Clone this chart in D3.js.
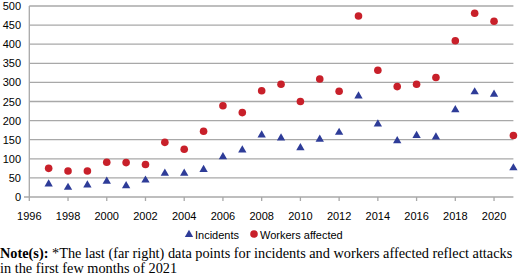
<!DOCTYPE html>
<html>
<head>
<meta charset="utf-8">
<script src="https://cdn.jsdelivr.net/npm/d3@7"></script>
<style>
body { margin: 0; background: #fff; }
svg { display: block; }
</style>
</head>
<body>
<script>
var width = 520;
var height = 279;

var years = [1997, 1998, 1999, 2000, 2001, 2002, 2003, 2004, 2005, 2006, 2007, 2008, 2009,
    2010, 2011, 2012, 2013, 2014, 2015, 2016, 2017, 2018, 2019, 2020, 2021];
var incidents = [34, 25, 31, 41, 29, 44, 62, 62, 72, 105, 123, 162, 154,
    129, 151, 169, 264, 191, 147, 161, 157, 228, 275, 269, 76];
var workers = [75, 68, 68, 91, 90, 85, 143, 125, 172, 239, 221, 278, 295,
    250, 309, 277, 474, 332, 289, 295, 313, 409, 481, 460, 161];
var xTicks = [1996, 1998, 2000, 2002, 2004, 2006, 2008, 2010, 2012, 2014, 2016, 2018, 2020];
var yTicks = [0, 50, 100, 150, 200, 250, 300, 350, 400, 450, 500];

var blue = "#2e3c98";
var red = "#c8202a";
var grid = "#a8a8a8";

var svg = d3.select("body")
    .append("svg")
    .attr("width", width)
    .attr("height", height);

var x = d3.scaleLinear().domain([1996, 2021]).range([29.3, 513.4]);
var y = d3.scaleLinear().domain([0, 500]).range([197, 6]);

// gridlines
svg.selectAll("line.grid")
    .data(yTicks)
    .enter()
    .append("line")
    .attr("class", "grid")
    .attr("x1", function (d) { return d === 0 ? 24 : x(1996); })
    .attr("x2", x(2021))
    .attr("y1", function (d) { return y(d); })
    .attr("y2", function (d) { return y(d); })
    .attr("stroke", grid)
    .attr("stroke-width", 1.3);

// y axis line
svg.append("line")
    .attr("x1", x(1996)).attr("x2", x(1996))
    .attr("y1", y(500)).attr("y2", y(0))
    .attr("stroke", grid)
    .attr("stroke-width", 1.3);

// x ticks
svg.selectAll("line.xtick")
    .data(xTicks)
    .enter()
    .append("line")
    .attr("class", "xtick")
    .attr("x1", function (d) { return x(d); })
    .attr("x2", function (d) { return x(d); })
    .attr("y1", y(0))
    .attr("y2", y(0) + 4)
    .attr("stroke", grid)
    .attr("stroke-width", 1.3);

svg.selectAll("text.xlab")
    .data(xTicks)
    .enter()
    .append("text")
    .attr("class", "xlab")
    .text(function (d) { return d; })
    .attr("x", function (d) { return x(d); })
    .attr("y", 219.5)
    .attr("font-family", "Liberation Sans, Arial, sans-serif")
    .attr("font-size", "11px")
    .attr("fill", "#000")
    .attr("text-anchor", "middle");

svg.selectAll("text.ylab")
    .data(yTicks)
    .enter()
    .append("text")
    .attr("class", "ylab")
    .text(function (d) { return d; })
    .attr("x", 21)
    .attr("y", function (d) { return y(d) + 4; })
    .attr("font-family", "Liberation Sans, Arial, sans-serif")
    .attr("font-size", "11px")
    .attr("fill", "#000")
    .attr("text-anchor", "end");

var tri = d3.symbol().type(d3.symbolTriangle).size(30);

svg.selectAll("circle.workers")
    .data(workers)
    .enter()
    .append("circle")
    .attr("class", "workers")
    .attr("cx", function (d, i) { return x(years[i]); })
    .attr("cy", function (d) { return y(d); })
    .attr("r", 3.8)
    .attr("fill", red);

svg.selectAll("path.incidents")
    .data(incidents)
    .enter()
    .append("path")
    .attr("class", "incidents")
    .attr("d", tri)
    .attr("transform", function (d, i) { return "translate(" + x(years[i]) + "," + y(d) + ")"; })
    .attr("fill", blue);

// legend
var legend = svg.append("g").attr("font-family", "Liberation Sans, Arial, sans-serif").attr("font-size", "11px");
legend.append("path").attr("d", tri).attr("transform", "translate(189,234.5)").attr("fill", blue);
legend.append("text").text("Incidents").attr("x", 195).attr("y", 238.5);
legend.append("circle").attr("cx", 254).attr("cy", 234).attr("r", 3.8).attr("fill", red);
legend.append("text").text("Workers affected").attr("x", 260).attr("y", 238.5);

// note
var note = svg.append("text")
    .attr("font-family", "Liberation Serif, Times New Roman, serif")
    .attr("font-size", "14.3px")
    .attr("fill", "#000");
var l1 = note.append("tspan").attr("x", 0).attr("y", 257.5);
l1.append("tspan").attr("font-weight", "bold").text("Note(s):");
l1.append("tspan").text(" *The last (far right) data points for incidents and workers affected reflect attacks");
note.append("tspan").attr("x", 0).attr("y", 273).text("in the first few months of 2021");
</script>
</body>
</html>
